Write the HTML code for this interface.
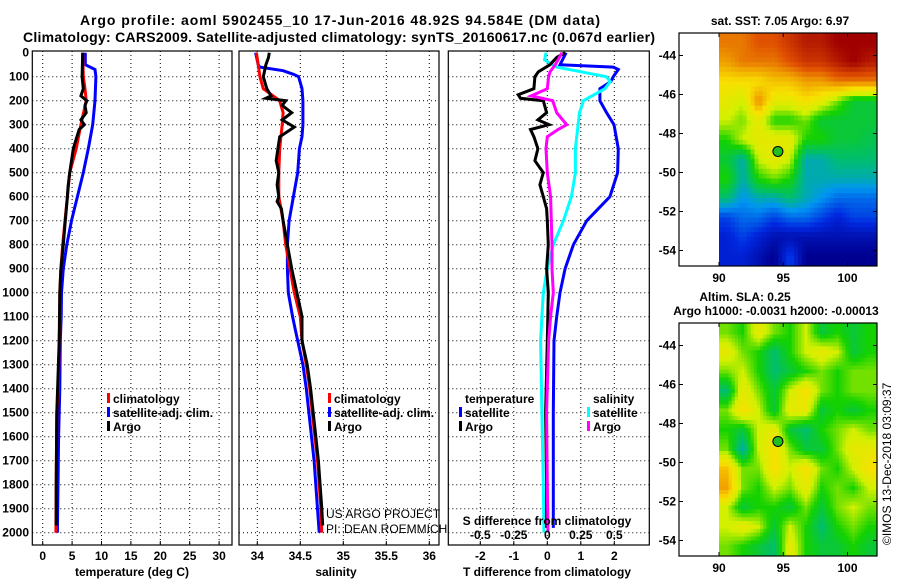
<!DOCTYPE html>
<html><head><meta charset="utf-8"><style>
html,body{margin:0;padding:0;background:#fff;}
svg{display:block;font-family:"Liberation Sans",Arial,sans-serif;}
</style></head><body>
<svg id="c" width="900" height="580" viewBox="0 0 900 580" xmlns="http://www.w3.org/2000/svg">
<text x="340" y="25" text-anchor="middle" font-weight="bold" font-size="14" textLength="520">Argo profile: aoml 5902455_10 17-Jun-2016 48.92S 94.584E (DM data)</text>
<text x="339" y="42" text-anchor="middle" font-weight="bold" font-size="14" textLength="632">Climatology: CARS2009. Satellite-adjusted climatology: synTS_20160617.nc (0.067d earlier)</text>
<text x="780" y="25" text-anchor="middle" font-weight="bold" font-size="12">sat. SST: 7.05 Argo: 6.97</text>
<text x="745" y="301" text-anchor="middle" font-weight="bold" font-size="12">Altim. SLA: 0.25</text>
<text x="776" y="315" text-anchor="middle" font-weight="bold" font-size="12">Argo h1000: -0.0031 h2000: -0.00013</text>
<text transform="translate(891,545) rotate(-90)" font-size="12">©IMOS 13-Dec-2018 03:09:37</text>
</svg>
<script>
// ---- data ----
const depthsT = [0,50,100,150,200,300,400,500,600,700,800,900,1000,1100,1200,1400,1500,1800,2000];
const tempClim = [6.8,6.85,6.9,7.2,7.4,6.5,5.7,4.6,4.2,3.8,3.4,3.1,2.9,2.9,2.8,2.65,2.4,2.3,2.25];
const depthsTS = [0,50,70,100,200,300,400,500,600,700,800,900,1000,1100,1200,1400,1600,1800,2000];
const tempSat = [7.25,7.25,8.9,9.05,8.9,8.5,7.75,6.9,5.9,4.9,4.1,3.5,3.2,3.15,3.0,2.9,2.7,2.6,2.5];
const depthsA = [0,100,150,180,200,220,250,280,300,320,360,400,450,500,560,600,700,800,900,1000,1200,1500,1800,1970];
const tempArgo = [6.8,6.7,6.9,6.5,7.5,7.2,7.4,6.5,7.1,6.2,5.7,5.2,4.9,4.6,4.3,4.2,3.85,3.5,3.1,2.9,2.8,2.4,2.3,2.3];

const depthsS = [0,50,100,150,200,250,300,400,500,600,700,800,900,1000,1100,1200,1300,1400,1500,1600,1700,1800,1900,2000];
const salClim = [33.99,34.01,34.03,34.07,34.26,34.3,34.29,34.26,34.25,34.25,34.3,34.33,34.38,34.43,34.5,34.52,34.57,34.61,34.64,34.67,34.70,34.72,34.74,34.75];
const depthsSS = [0,50,60,75,90,100,150,200,300,350,400,500,600,700,800,900,1000,1100,1150,1200,1300,1400,1500,1600,1700,1800,1900,2000];
const salSat = [33.98,34.01,34.03,34.3,34.42,34.48,34.52,34.53,34.53,34.52,34.49,34.47,34.42,34.37,34.35,34.35,34.36,34.41,34.44,34.47,34.53,34.57,34.6,34.63,34.66,34.68,34.7,34.72];
const depthsSA = [0,20,50,100,150,180,190,200,220,250,280,310,350,400,450,500,550,600,620,650,700,800,900,1000,1100,1200,1300,1400,1500,1600,1700,1800,1900,1970];
const salArgo = [34.14,34.13,34.1,34.07,34.11,34.16,34.1,34.33,34.29,34.4,34.29,34.43,34.26,34.24,34.22,34.25,34.23,34.25,34.23,34.28,34.3,34.35,34.4,34.46,34.52,34.52,34.58,34.62,34.65,34.68,34.71,34.73,34.75,34.76];

const dDepthTS = [0,50,60,70,100,120,150,200,250,300,400,500,600,700,800,900,1000,1100,1200,1500,1800,1980];
const dTempSat = [0.56,0.38,1.97,2.12,1.97,1.9,1.57,1.57,1.77,1.99,2.12,2.1,1.87,1.18,0.78,0.53,0.38,0.28,0.2,0.18,0.18,0.18];
const dDepthSS = [0,30,60,100,120,150,200,250,300,400,500,600,700,800,900,1000,1100,1200,1500,1800,2000];
const dSalSat = [-0.01,-0.02,0.07,0.44,0.47,0.43,0.27,0.24,0.23,0.21,0.21,0.18,0.12,0.045,0.0,-0.03,-0.04,-0.05,-0.04,-0.03,-0.025];
const dDepthA = [0,20,50,80,100,150,175,190,200,250,280,300,320,350,400,450,500,550,600,650,700,800,900,1000,1200,1500,1800,1980];
const dTempArgo = [0.53,0.28,0.08,-0.27,-0.37,-0.4,-0.87,-0.8,-0.12,-0.02,-0.28,0.05,-0.5,-0.4,-0.28,-0.37,-0.12,-0.22,-0.12,-0.02,0,0.03,-0.02,0.03,0,-0.05,-0.02,-0.02];
const dDepthSA = [0,50,80,100,150,180,200,250,300,320,350,400,500,600,700,800,900,1000,1100,1200,1500,1800,2000];
const dSalArgo = [0.11,0.06,0.02,0.01,0.0,-0.12,0.04,0.07,0.145,0.08,0,-0.01,0,0.025,0.03,0.035,0.035,0.045,0.025,0.01,-0.005,0,0.005];

const depthTicks = [0,100,200,300,400,500,600,700,800,900,1000,1100,1200,1300,1400,1500,1600,1700,1800,1900,2000];
const tempTicks = [0,5,10,15,20,25,30];
const salTicks = [34,34.5,35,35.5,36];
const salTickLabels = ["34","34.5","35","35.5","36"];
const dTTicks = [-2,-1,0,1,2];
const dSTicks = [-0.5,-0.25,0,0.25,0.5];
const dSTickLabels = ["-0.5","-0.25","0","0.25","0.5"];

const sstGrid = [
[0.8,0.8,0.85,0.85,0.9,0.95,0.95,1,1,1],
[0.75,0.8,0.8,0.8,0.85,0.9,0.9,0.95,1,0.95],
[0.65,0.65,0.65,0.7,0.7,0.75,0.75,0.8,0.8,0.8],
[0.6,0.55,0.78,0.6,0.6,0.65,0.6,0.5,0.4,0.4],
[0.55,0.5,0.6,0.45,0.45,0.5,0.4,0.4,0.4,0.4],
[0.45,0.55,0.6,0.6,0.6,0.45,0.45,0.4,0.4,0.38],
[0.4,0.3,0.55,0.6,0.55,0.3,0.3,0.35,0.35,0.35],
[0.45,0.3,0.45,0.5,0.45,0.3,0.3,0.3,0.3,0.3],
[0.35,0.25,0.3,0.3,0.35,0.3,0.25,0.2,0.2,0.2],
[0.15,0.2,0.2,0.15,0.2,0.2,0.15,0.1,0.15,0.15],
[0.1,0.15,0.1,0.05,0.05,0.05,0.05,0.05,0.05,0.05],
[0.1,0.1,0.05,0.0,0.15,0.0,0.0,0,0,0]];
const slaGrid = [
[0.5,0.45,0.6,0.5,0.45,0.55,0.4,0.45,0.4,0.45],
[0.6,0.5,0.45,0.35,0.45,0.55,0.6,0.55,0.4,0.45],
[0.5,0.55,0.45,0.35,0.4,0.45,0.5,0.45,0.5,0.5],
[0.35,0.6,0.5,0.4,0.55,0.65,0.5,0.45,0.5,0.5],
[0.5,0.65,0.55,0.4,0.6,0.6,0.4,0.45,0.4,0.45],
[0.45,0.4,0.55,0.6,0.4,0.35,0.45,0.5,0.55,0.5],
[0.5,0.3,0.55,0.65,0.5,0.4,0.4,0.5,0.6,0.6],
[0.7,0.5,0.5,0.65,0.55,0.65,0.5,0.45,0.55,0.65],
[0.75,0.5,0.45,0.55,0.5,0.6,0.45,0.5,0.45,0.55],
[0.55,0.4,0.45,0.45,0.4,0.5,0.4,0.5,0.55,0.5],
[0.55,0.6,0.55,0.4,0.55,0.45,0.35,0.45,0.5,0.45],
[0.5,0.45,0.4,0.35,0.6,0.45,0.4,0.4,0.45,0.4]];
const lonTicks = [90,95,100];
const latTicks = [-44,-46,-48,-50,-52,-54];
const floatLon = 94.584, floatLat = -48.92;

// ---- drawing ----
const svg = document.getElementById('c');
const NS = 'http://www.w3.org/2000/svg';
function mk(tag, attrs, parent){const e=document.createElementNS(NS,tag);for(const k in attrs)e.setAttribute(k,attrs[k]);(parent||svg).appendChild(e);return e;}
const yD = d => 52.7 + d*0.24;
const PT = 51, PB = 545;
const xT = t => 42.7 + t*5.88;
const xS = s => 257.3 + (s-34)*86;
const xDT = t => 547.3 + t*33.5;
const xDS = s => 547.3 + s*134;

function panel(name, x0, x1, ticks, fx){
  const g = mk('g', {});
  
  
  depthTicks.forEach(d=>{ if(d>0) mk('line',{x1:x0,x2:x1,y1:yD(d),y2:yD(d),stroke:'#000','stroke-dasharray':'1 3','stroke-width':1},g); });
  ticks.forEach(t=>{ const x=fx(t); mk('line',{x1:x,x2:x,y1:PT,y2:PB,stroke:'#000','stroke-dasharray':'1 3','stroke-width':1},g); mk('line',{x1:x,x2:x,y1:PB-4,y2:PB,stroke:'#000'},g);});
  mk('rect',{x:x0,y:PT,width:x1-x0,height:PB-PT,fill:'none',stroke:'#000','stroke-width':1.2},g);
  return g;
}
function series(g, name, ds, vs, fx, color){
  const pts = ds.map((d,i)=>fx(vs[i]).toFixed(1)+','+yD(d).toFixed(1)).join(' ');
  const p = mk('polyline',{points:pts,fill:'none',stroke:color,'stroke-width':3,'stroke-linejoin':'miter'},g);
  
  
}
function txt(g,x,y,s,opts){const e=mk('text',Object.assign({x:x,y:y,'font-size':12,'font-weight':'bold'},opts||{}),g);e.textContent=s;return e;}

const gy = mk('g',{});


depthTicks.forEach(d=>txt(gy,29,yD(d)+4,String(d),{'text-anchor':'end'}));

const g1 = panel('temperature-panel',32.3,232,tempTicks,xT);
tempTicks.forEach(t=>txt(g1,xT(t),560,String(t),{'text-anchor':'middle'}));
txt(g1,132,576,'temperature (deg C)',{'text-anchor':'middle'});
series(g1,'temp-satellite-line',depthsTS,tempSat,xT,'#0000ff');
series(g1,'temp-climatology-line',depthsT,tempClim,xT,'#ff0000');
series(g1,'temp-argo-line',depthsA,tempArgo,xT,'#000000');

const g2 = panel('salinity-panel',239,439,salTicks,xS);
salTicks.forEach((t,i)=>txt(g2,xS(t),560,salTickLabels[i],{'text-anchor':'middle'}));
txt(g2,336,576,'salinity',{'text-anchor':'middle'});
series(g2,'sal-satellite-line',depthsSS,salSat,xS,'#0000ff');
series(g2,'sal-climatology-line',depthsS,salClim,xS,'#ff0000');
series(g2,'sal-argo-line',depthsSA,salArgo,xS,'#000000');
txt(g2,326,518,'US ARGO PROJECT',{'font-weight':'normal'});
txt(g2,326,533,'PI: DEAN ROEMMICH',{'font-weight':'normal'});

const g3 = panel('difference-panel',448.3,649.3,dTTicks,xDT);
series(g3,'dtemp-satellite-line',dDepthTS,dTempSat,xDT,'#0000ff');
series(g3,'dsal-satellite-line',dDepthSS,dSalSat,xDS,'#00ffff');
series(g3,'dtemp-argo-line',dDepthA,dTempArgo,xDT,'#000000');
series(g3,'dsal-argo-line',dDepthSA,dSalArgo,xDS,'#ff00ff');
dTTicks.forEach(t=>txt(g3,xDT(t),560,String(t),{'text-anchor':'middle'}));
dSTicks.forEach((t,i)=>txt(g3,xDS(t),539,dSTickLabels[i],{'text-anchor':'middle'}));
txt(g3,547,525,'S difference from climatology',{'text-anchor':'middle'});
txt(g3,547,576,'T difference from climatology',{'text-anchor':'middle'});

function legend(g,x,y,items,name){
  const lg = mk('g',{},g);
  
  
  items.forEach((it,i)=>{
    const yy=y+i*14;
    if(it[1]) mk('rect',{x:x,y:yy-10,width:3,height:10,fill:it[1]},lg);
    txt(lg,x+6,yy,it[0]);
  });
}
legend(g1,107,403,[['climatology','#ff0000'],['satellite-adj. clim.','#0000ff'],['Argo','#000']],'temp-legend');
legend(g2,328,403,[['climatology','#ff0000'],['satellite-adj. clim.','#0000ff'],['Argo','#000']],'sal-legend');
legend(g3,459,403,[['temperature',null],['satellite','#0000ff'],['Argo','#000']],'dtemp-legend');
legend(g3,587,403,[['salinity',null],['satellite','#00ffff'],['Argo','#ff00ff']],'dsal-legend');

// maps
const stops=[[0,[0,0,144]],[0.12,[0,40,224]],[0.25,[0,150,240]],[0.35,[0,190,110]],[0.45,[20,210,0]],[0.55,[210,240,0]],[0.65,[248,224,0]],[0.75,[240,160,0]],[0.85,[224,80,0]],[1,[160,0,0]]];
function cmap(v){v=Math.max(0,Math.min(1,v));for(let i=1;i<stops.length;i++){if(v<=stops[i][0]){const a=stops[i-1],b=stops[i],f=(v-a[0])/(b[0]-a[0]);return 'rgb('+a[1].map((c,k)=>Math.round(c+(b[1][k]-c)*f)).join(',')+')';}}return 'rgb(160,0,0)';}
function sample(grid,fr,fc){
  const R=grid.length,C=grid[0].length;
  const r=Math.max(0,Math.min(R-1,fr-0.5)), c=Math.max(0,Math.min(C-1,fc-0.5));
  const r0=Math.floor(r),c0=Math.floor(c),r1=Math.min(R-1,r0+1),c1=Math.min(C-1,c0+1),a=r-r0,b=c-c0;
  return grid[r0][c0]*(1-a)*(1-b)+grid[r0][c1]*(1-a)*b+grid[r1][c0]*a*(1-b)+grid[r1][c1]*a*b;
}
const MX0=679, MX1=877;
const xLon = l => 719 + (l-90)*12.85;
function drawMap(name, grid, top, bottom, lat44, sub){
  const g = mk('g',{});
  
  
  const yLat = l => lat44 + (-44-l)*19.5;
  const rows=grid.length, cols=grid[0].length;
  const x0=719, w=(MX1-x0)/(cols*sub), h=(bottom-top)/(rows*sub);
  for(let r=0;r<rows*sub;r++)for(let c=0;c<cols*sub;c++){
    const v=sample(grid,(r+0.5)/sub,(c+0.5)/sub);
    const cell = mk('rect',{x:(x0+c*w).toFixed(1),y:(top+r*h).toFixed(1),width:(w+0.5).toFixed(1),height:(h+0.5).toFixed(1),fill:cmap(v)},g);
    
    
  }
  mk('rect',{x:MX0,y:top,width:MX1-MX0,height:bottom-top,fill:'none',stroke:'#000','stroke-width':1.2},g);
  latTicks.forEach(l=>{const y=yLat(l);mk('line',{x1:MX1-4,x2:MX1,y1:y,y2:y,stroke:'#000'},g);mk('line',{x1:MX0,x2:MX0+4,y1:y,y2:y,stroke:'#000'},g);txt(g,676,y+4,String(l),{'text-anchor':'end'});});
  lonTicks.forEach(l=>{const x=xLon(l);mk('line',{x1:x,x2:x,y1:bottom-4,y2:bottom,stroke:'#000'},g);mk('line',{x1:x,x2:x,y1:top,y2:top+4,stroke:'#000'},g);txt(g,x,bottom+16,String(l),{'text-anchor':'middle'});});
  const m = mk('circle',{cx:xLon(floatLon),cy:yLat(floatLat),r:5,fill:'#20c020',stroke:'#000','stroke-width':1},g);
  
  
}
drawMap('sst-map',sstGrid,33,266,55.5,4);
drawMap('sla-map',slaGrid,323,556,345.5,5);
</script>
</body></html>
